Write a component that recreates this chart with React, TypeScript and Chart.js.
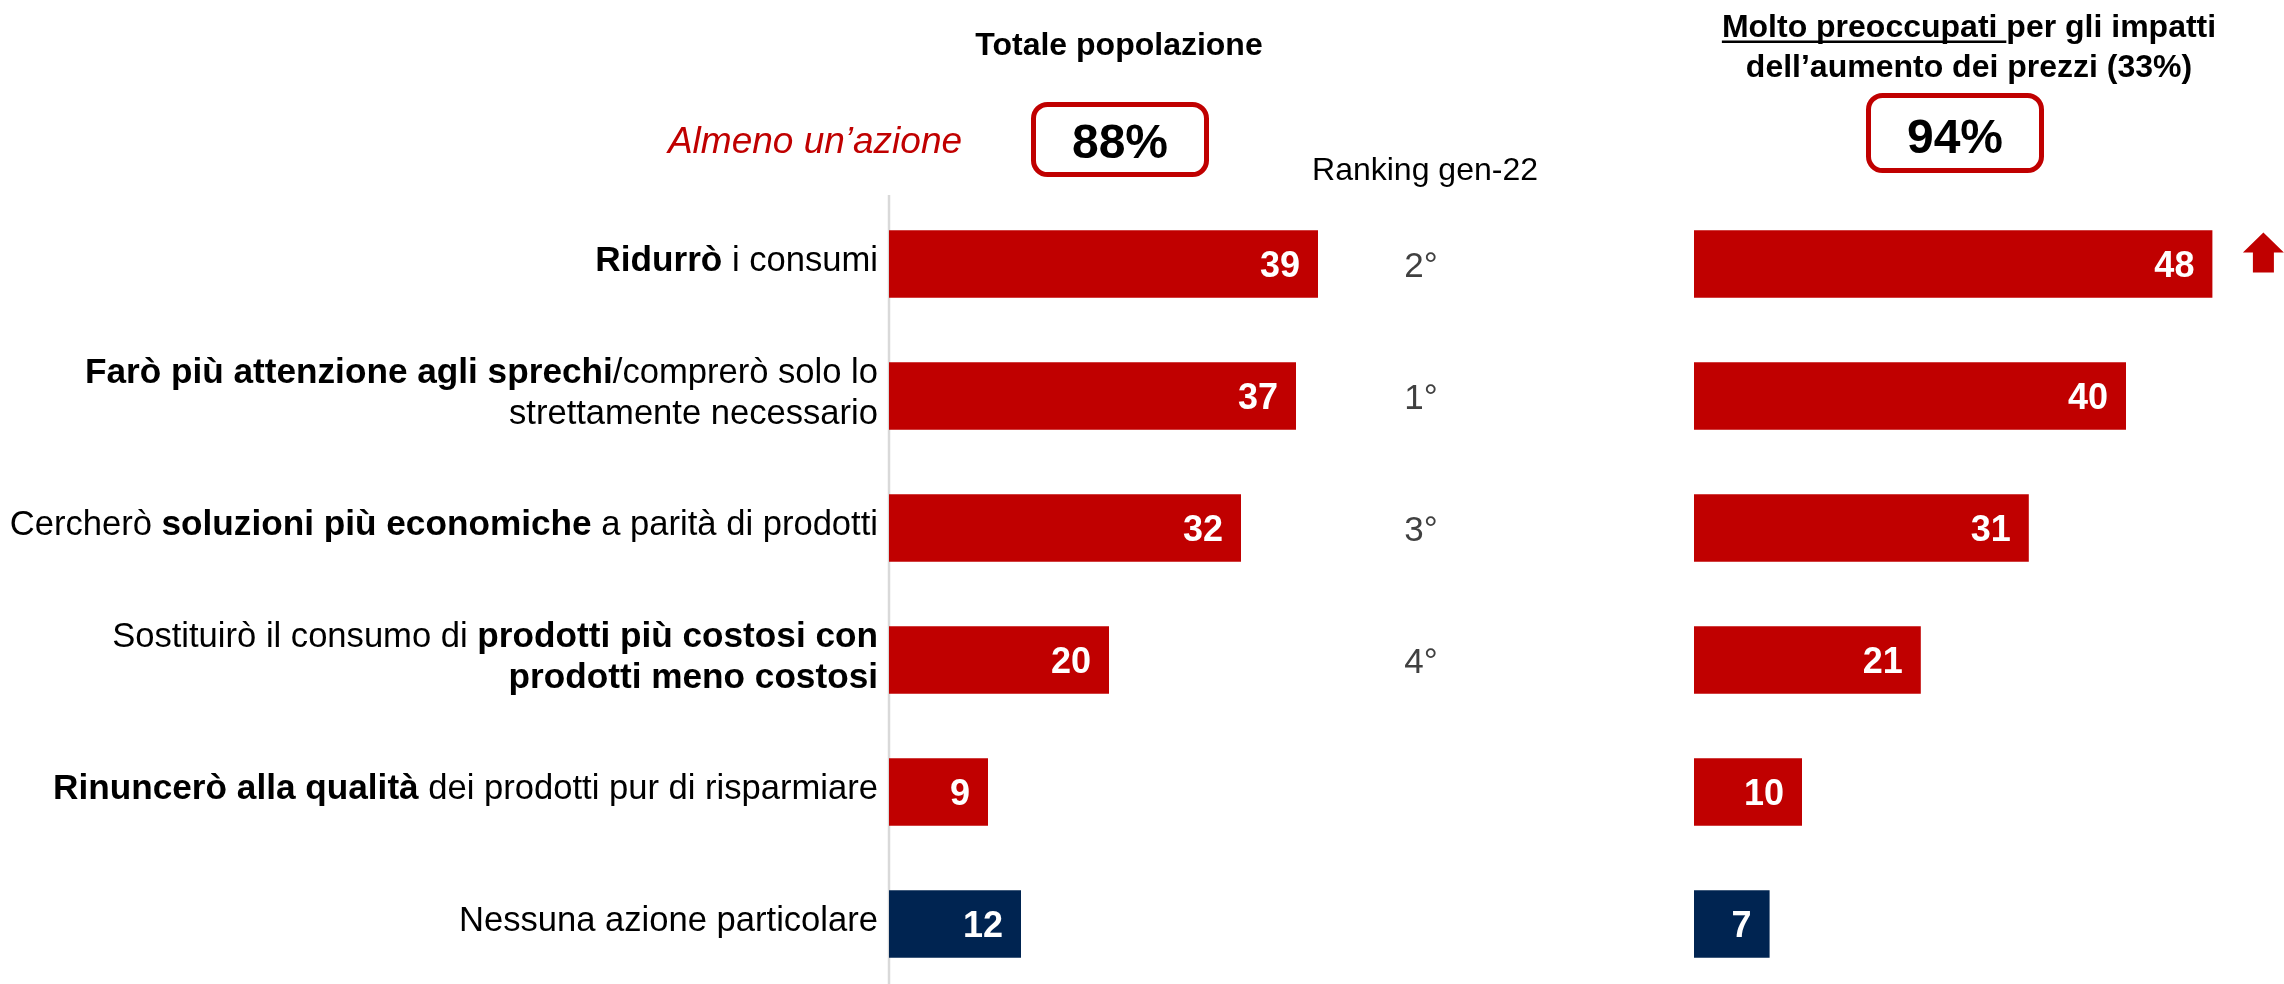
import React, { useEffect, useRef } from "react";
import { Chart, registerables } from "chart.js";

Chart.register(...registerables);

// ---------------- DATA ----------------
const CATEGORIES = [
  "**Ridurrò** i consumi",
  "**Farò più attenzione agli sprechi**/comprerò solo lo\nstrettamente necessario",
  "Cercherò **soluzioni più economiche** a parità di prodotti",
  "Sostituirò il consumo di **prodotti più costosi con**\n**prodotti meno costosi**",
  "**Rinuncerò alla qualità** dei prodotti pur di risparmiare",
  "Nessuna azione particolare",
];
const TOTAL_VALUES = [39, 37, 32, 20, 9, 12];
const CONCERNED_VALUES = [48, 40, 31, 21, 10, 7];
const RANKING_LABELS = ["2°", "1°", "3°", "4°", "", ""];
const NO_ACTION = [false, false, false, false, false, true];
const TREND_UP = [true, false, false, false, false, false];

const TOTAL_TITLE = "Totale popolazione";
const CONCERNED_TITLE_UNDERLINED = "Molto preoccupati ";
const CONCERNED_TITLE_REST = "per gli impatti";
const CONCERNED_TITLE_LINE2 = "dell’aumento dei prezzi (33%)";
const AT_LEAST_LABEL = "Almeno un’azione";
const TOTAL_AT_LEAST = "88%";
const CONCERNED_AT_LEAST = "94%";
const RANKING_TITLE = "Ranking gen-22";

// ---------------- STYLE ----------------
const RED = "#c00000";
const NAVY = "#002451";
const FONT = '"Liberation Sans", Arial, Helvetica, sans-serif';
const W = 2284;
const H = 1000;
const AXIS_X = 889;
const LEFT_PX_PER_UNIT = 11.0;
const RIGHT_BASE_X = 1694;
const RIGHT_PX_PER_UNIT = 10.8;
const AREA_TOP = 198;
const AREA_BOTTOM_PAD = 10;
const LABEL_SIZE = 34.6;
const LABEL_BOLD_SIZE = 35.2;

const plainLabel = (s: string) => s.replace(/\*\*/g, "").replace(/\n/g, " ");

function drawRich(ctx: CanvasRenderingContext2D, text: string, rightX: number, baseline: number) {
  const parts = text.split("**");
  const segs = parts.map((t, i) => ({ t, bold: i % 2 === 1 })).filter((s) => s.t.length > 0);
  const fontOf = (bold: boolean) => (bold ? `bold ${LABEL_BOLD_SIZE}px ${FONT}` : `${LABEL_SIZE}px ${FONT}`);
  let total = 0;
  const widths = segs.map((s) => {
    ctx.font = fontOf(s.bold);
    const w = ctx.measureText(s.t).width;
    total += w;
    return w;
  });
  let x = rightX - total;
  ctx.textAlign = "left";
  segs.forEach((s, i) => {
    ctx.font = fontOf(s.bold);
    ctx.fillText(s.t, x, baseline);
    x += widths[i];
  });
}

function roundRect(ctx: CanvasRenderingContext2D, x: number, y: number, w: number, h: number, r: number) {
  ctx.beginPath();
  ctx.moveTo(x + r, y);
  ctx.lineTo(x + w - r, y);
  ctx.arcTo(x + w, y, x + w, y + r, r);
  ctx.lineTo(x + w, y + h - r);
  ctx.arcTo(x + w, y + h, x + w - r, y + h, r);
  ctx.lineTo(x + r, y + h);
  ctx.arcTo(x, y + h, x, y + h - r, r);
  ctx.lineTo(x, y + r);
  ctx.arcTo(x, y, x + r, y, r);
  ctx.closePath();
}

const overlayPlugin = {
  id: "overlay",
  beforeDatasetsDraw(chart: any) {
    const ctx: CanvasRenderingContext2D = chart.ctx;
    ctx.save();
    ctx.strokeStyle = "#d9d9d9";
    ctx.lineWidth = 2.5;
    ctx.beginPath();
    ctx.moveTo(chart.chartArea.left, 195);
    ctx.lineTo(chart.chartArea.left, 984);
    ctx.stroke();
    ctx.restore();
  },
  afterDatasetsDraw(chart: any) {
    const ctx: CanvasRenderingContext2D = chart.ctx;
    const yScale = chart.scales.y;
    ctx.save();
    ctx.textBaseline = "alphabetic";

    // category labels
    ctx.fillStyle = "#000";
    CATEGORIES.forEach((label, i) => {
      const cy = yScale.getPixelForValue(i);
      const lines = label.split("\n");
      const n = lines.length;
      lines.forEach((ln, j) => {
        const base = cy + 7 + (j - (n - 1) / 2) * 41;
        drawRich(ctx, ln, chart.chartArea.left - 11, base);
      });
    });

    // value labels
    [0, 1].forEach((d) => {
      const meta = chart.getDatasetMeta(d);
      const values = d === 0 ? TOTAL_VALUES : CONCERNED_VALUES;
      meta.data.forEach((el: any, i: number) => {
        ctx.font = `bold 36px ${FONT}`;
        ctx.fillStyle = "#fff";
        ctx.textAlign = "right";
        ctx.fillText(String(values[i]), el.x - 18, el.y + 13);
      });
    });

    // trend arrows
    const rMeta = chart.getDatasetMeta(1);
    rMeta.data.forEach((el: any, i: number) => {
      if (!TREND_UP[i]) return;
      const cx = el.x + 51;
      const cy = el.y;
      ctx.fillStyle = RED;
      ctx.beginPath();
      ctx.moveTo(cx, cy - 31.5);
      ctx.lineTo(cx + 20.5, cy - 11.5);
      ctx.lineTo(cx + 10.5, cy - 11.5);
      ctx.lineTo(cx + 10.5, cy + 8.5);
      ctx.lineTo(cx - 10.5, cy + 8.5);
      ctx.lineTo(cx - 10.5, cy - 11.5);
      ctx.lineTo(cx - 20.5, cy - 11.5);
      ctx.closePath();
      ctx.fill();
    });

    // ranking column
    ctx.fillStyle = "#404040";
    ctx.font = `35px ${FONT}`;
    ctx.textAlign = "center";
    RANKING_LABELS.forEach((r, i) => {
      if (!r) return;
      ctx.fillText(r, 1421, yScale.getPixelForValue(i) + 12.5);
    });
    ctx.fillStyle = "#000";
    ctx.font = `32px ${FONT}`;
    ctx.fillText(RANKING_TITLE, 1425, 180);

    // headers
    ctx.font = `bold 32px ${FONT}`;
    ctx.fillText(TOTAL_TITLE, 1119, 55);

    ctx.font = `bold 32px ${FONT}`;
    const wU = ctx.measureText(CONCERNED_TITLE_UNDERLINED).width;
    const wR = ctx.measureText(CONCERNED_TITLE_REST).width;
    const startX = 1969 - (wU + wR) / 2;
    ctx.textAlign = "left";
    ctx.fillText(CONCERNED_TITLE_UNDERLINED, startX, 37);
    ctx.fillText(CONCERNED_TITLE_REST, startX + wU, 37);
    ctx.fillRect(startX, 40.5, wU, 2.5);
    ctx.textAlign = "center";
    ctx.fillText(CONCERNED_TITLE_LINE2, 1969, 77);

    // at least one action
    ctx.fillStyle = RED;
    ctx.font = `italic 37px ${FONT}`;
    ctx.fillText(AT_LEAST_LABEL, 815, 153);

    ctx.strokeStyle = RED;
    ctx.lineWidth = 5;
    roundRect(ctx, 1033.5, 104.5, 173, 70, 14);
    ctx.stroke();
    roundRect(ctx, 1868.5, 95.5, 173, 75, 14);
    ctx.stroke();

    ctx.fillStyle = "#000";
    ctx.font = `bold 48px ${FONT}`;
    ctx.fillText(TOTAL_AT_LEAST, 1120, 158);
    ctx.fillText(CONCERNED_AT_LEAST, 1955, 153);

    ctx.restore();
  },
};

export default function App() {
  const ref = useRef<HTMLCanvasElement | null>(null);

  useEffect(() => {
    if (!ref.current) return;
    const areaWidth = W - AXIS_X;
    const rightMin = -(RIGHT_BASE_X - AXIS_X) / RIGHT_PX_PER_UNIT;
    const chart = new Chart(ref.current, {
      type: "bar",
      data: {
        labels: CATEGORIES.map(plainLabel),
        datasets: [
          {
            label: TOTAL_TITLE,
            data: TOTAL_VALUES,
            backgroundColor: NO_ACTION.map((n) => (n ? NAVY : RED)),
            xAxisID: "x",
            grouped: false,
            categoryPercentage: 0.51,
            barPercentage: 1,
            borderWidth: 0,
          },
          {
            label: CONCERNED_TITLE_UNDERLINED + CONCERNED_TITLE_REST,
            data: CONCERNED_VALUES,
            backgroundColor: NO_ACTION.map((n) => (n ? NAVY : RED)),
            xAxisID: "x2",
            grouped: false,
            categoryPercentage: 0.51,
            barPercentage: 1,
            borderWidth: 0,
          },
        ] as any,
      },
      options: {
        indexAxis: "y",
        responsive: false,
        maintainAspectRatio: false,
        animation: false,
        devicePixelRatio: 1,
        events: [],
        layout: { padding: { left: AXIS_X, right: 0, top: AREA_TOP, bottom: AREA_BOTTOM_PAD } },
        plugins: {
          legend: { display: false },
          tooltip: { enabled: false },
          title: { display: false },
        },
        scales: {
          y: { display: false, offset: true, grid: { display: false } },
          x: { display: false, min: 0, max: areaWidth / LEFT_PX_PER_UNIT },
          x2: {
            type: "linear",
            display: false,
            position: "top",
            min: rightMin,
            max: rightMin + areaWidth / RIGHT_PX_PER_UNIT,
          },
        },
      } as any,
      plugins: [overlayPlugin],
    });
    return () => chart.destroy();
  }, []);

  return (
    <div
      style={{
        position: "fixed",
        left: 0,
        top: 0,
        width: W,
        height: 984,
        overflow: "hidden",
        background: "#fff",
      }}
    >
      <canvas ref={ref} width={W} height={H} style={{ width: W, height: H, display: "block" }} />
    </div>
  );
}
